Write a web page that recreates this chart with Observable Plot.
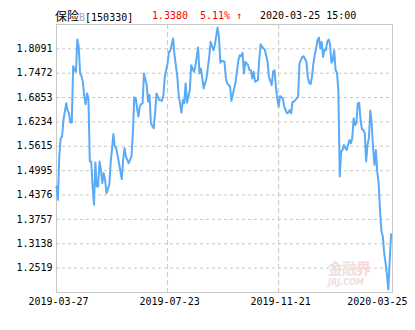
<!DOCTYPE html>
<html>
<head>
<meta charset="utf-8">
<script src="https://cdn.jsdelivr.net/npm/d3@7"></script>
<script src="https://cdn.jsdelivr.net/npm/@observablehq/plot@0.6"></script>
<style>
  html, body { margin: 0; padding: 0; background: #fff; }
  #wrap { position: relative; width: 415px; height: 330px; overflow: hidden; }
  #head { position: absolute; left: 0; top: 0; width: 415px; height: 24px; font-family: "DejaVu Sans Mono", monospace; font-size: 10px; }
  #head span { position: absolute; top: 10px; line-height: 12px; white-space: pre; }
  .cn { font-family: "Noto Sans CJK SC", sans-serif; font-size: 12px; }
  #wm { position: absolute; left: 328px; top: 259px; pointer-events: none; }
</style>
</head>
<body>
<div id="wrap">
  <div id="chart"></div>
  <div id="head"></div>
  <div id="wm"></div>
</div>
<script>
// ---- data ----
const fundName = "保险";
const fundSuffix = "B";
const fundCode = "[150330]";
const lastPrice = "1.3380";
const lastChange = "5.11% ↑";
const lastTime = "2020-03-25 15:00";

const xTickDays = [0, 80, 160, 242];
const xTickLabels = ["2019-03-27", "2019-07-23", "2019-11-21", "2020-03-25"];
const yTickLabels = ["1.2519", "1.3138", "1.3757", "1.4376", "1.4995", "1.5615", "1.6234", "1.6853", "1.7472", "1.8091"];
const yDomain = [1.19, 1.8709];
const xDomain = [0, 242];

// trading-day number since 2019-03-27
const days = [
  0,1,2,3,4,5,6,7,8,9,10,11,12,13,14,15,16,17,18,19,20,21,22,23,24,25,26,27,28,29,
  30,31,32,33,34,35,36,38,39,41,42,43,45,47,48,49,50,52,54,55,56,57,59,60,61,62,63,65,66,67,
  68,70,71,72,74,76,77,78,80,81,82,84,85,87,88,90,91,92,93,94,96,97,99,100,102,103,104,106,107,108,
  110,111,113,114,116,117,118,119,121,122,123,125,126,128,129,131,132,133,134,135,136,138,139,140,141,142,143,145,146,147,
  149,150,152,153,155,156,157,158,159,160,161,163,164,166,167,168,169,170,171,172,174,175,177,178,180,181,182,183,184,185,
  186,187,188,189,190,191,192,193,194,195,196,197,198,199,200,201,202,203,204,205,206,207,208,209,210,211,212,213,214,215,
  216,217,218,219,220,221,222,223,224,225,226,227,228,229,230,231,232,233,234,235,236,237,238,239,240,241
];
const navs = [
  1.4596,1.4256,1.5356,1.5819,1.5862,1.6283,1.6495,1.6706,1.6521,1.6452,1.6217,1.6217,1.7650,1.7549,1.7508,1.8327,1.8142,1.7465,1.7397,1.7255,1.6875,1.6680,1.6959,1.6832,1.5229,1.5229,1.4596,1.4130,1.5204,1.4596,
  1.4596,1.5229,1.5016,1.4679,1.4933,1.4763,1.4426,1.4636,1.5186,1.5928,1.5609,1.5566,1.5186,1.4781,1.5270,1.5566,1.5356,1.5186,1.5356,1.5946,1.6858,1.6832,1.6369,1.6622,1.6688,1.6706,1.7465,1.7169,1.6749,1.6916,
  1.6199,1.6072,1.6452,1.6959,1.6789,1.6774,1.6916,1.7382,1.7719,1.8015,1.8040,1.8352,1.7929,1.7382,1.6916,1.6470,1.6789,1.6706,1.7212,1.6723,1.7042,1.7676,1.7508,1.7650,1.8124,1.7465,1.7592,1.7086,1.7212,1.7339,
  1.7888,1.8268,1.8056,1.8182,1.8630,1.8395,1.7736,1.7787,1.7762,1.7339,1.7212,1.7129,1.6774,1.7086,1.7255,1.7802,1.7929,1.7904,1.7990,1.7465,1.7762,1.7676,1.7549,1.7549,1.7339,1.7508,1.7255,1.7296,1.7802,1.8208,
  1.8099,1.8073,1.7762,1.7382,1.7169,1.7508,1.7549,1.7129,1.6832,1.6622,1.6890,1.6832,1.6622,1.6452,1.6470,1.6536,1.6452,1.6749,1.6749,1.6789,1.6875,1.7719,1.7888,1.7904,1.7762,1.7364,1.7230,1.7194,1.7382,1.7719,
  1.7929,1.8099,1.8309,1.8377,1.8099,1.8268,1.7888,1.8073,1.8056,1.8268,1.8327,1.8208,1.7736,1.7802,1.8056,1.7549,1.7483,1.7042,1.4849,1.5482,1.5523,1.5649,1.5566,1.5523,1.5649,1.5776,1.5693,1.5819,1.6326,1.6156,
  1.6199,1.6706,1.6723,1.6283,1.6047,1.6029,1.5946,1.5229,1.5649,1.5819,1.6521,1.6199,1.5566,1.5143,1.5523,1.4976,1.4679,1.4003,1.3456,1.3330,1.2907,1.2653,1.2357,1.1977,1.2730,1.3380
];

const series = days.map((d, i) => ({day: d, nav: navs[i]}));
const yTicks = yTickLabels.map(Number);

// ---- chart ----
const chart = Plot.plot({
  width: 415,
  height: 330,
  marginTop: 24,
  marginBottom: 38,
  marginLeft: 56,
  marginRight: 23,
  style: {fontFamily: "'DejaVu Sans Mono', monospace", fontSize: "10px", color: "#000", background: "#fff"},
  x: {domain: xDomain, axis: null},
  y: {domain: yDomain, axis: null},
  marks: [
    Plot.ruleY(yTicks, {stroke: "#c8c8c8", strokeDasharray: "3,3", strokeWidth: 1}),
    Plot.ruleX(xTickDays.slice(1, 3), {stroke: "#c8c8c8", strokeDasharray: "5,3", strokeWidth: 1}),
    Plot.frame({stroke: "#c8c8c8", strokeWidth: 1}),
    Plot.line(series, {x: "day", y: "nav", stroke: "#5aaaf6", strokeWidth: 2, strokeLinejoin: "round"}),
    Plot.axisY({ticks: yTicks, label: null, tickSize: 0, tickPadding: 4, tickFormat: (d, i) => yTickLabels[i], fill: "#000"}),
    Plot.axisX({ticks: xTickDays.slice(0, 3), label: null, tickSize: 0, tickPadding: 5, dx: 2, tickFormat: (d, i) => xTickLabels[i], fill: "#000"}),
    Plot.axisX({ticks: xTickDays.slice(3), label: null, tickSize: 0, tickPadding: 5, textAnchor: "end", dx: 15, tickFormat: () => xTickLabels[3], fill: "#000"})
  ]
});
document.getElementById("chart").appendChild(chart);

// ---- header ----
const head = document.getElementById("head");
head.innerHTML =
  `<span style="left:55px"><span class="cn" style="position:static">${fundName}</span><span style="position:static;color:#aaa">${fundSuffix}</span>${fundCode}</span>` +
  `<span style="left:152px;color:#f00">${lastPrice}</span>` +
  `<span style="left:200px;color:#f00">${lastChange}</span>` +
  `<span style="left:260px;color:#000">${lastTime}</span>`;

// ---- watermark ----
document.getElementById("wm").innerHTML =
  `<div style="font-family:'Noto Sans CJK SC',sans-serif;font-weight:bold;font-size:15px;line-height:17px;height:19px;color:#efe0e0;letter-spacing:-1px">金融<span style="color:#f6d6d6">界</span></div>` +
  `<div style="font-family:'DejaVu Sans',sans-serif;font-style:italic;font-weight:bold;font-size:8px;line-height:9px;color:#eddede">JRJ.COM</div>`;
</script>
</body>
</html>
